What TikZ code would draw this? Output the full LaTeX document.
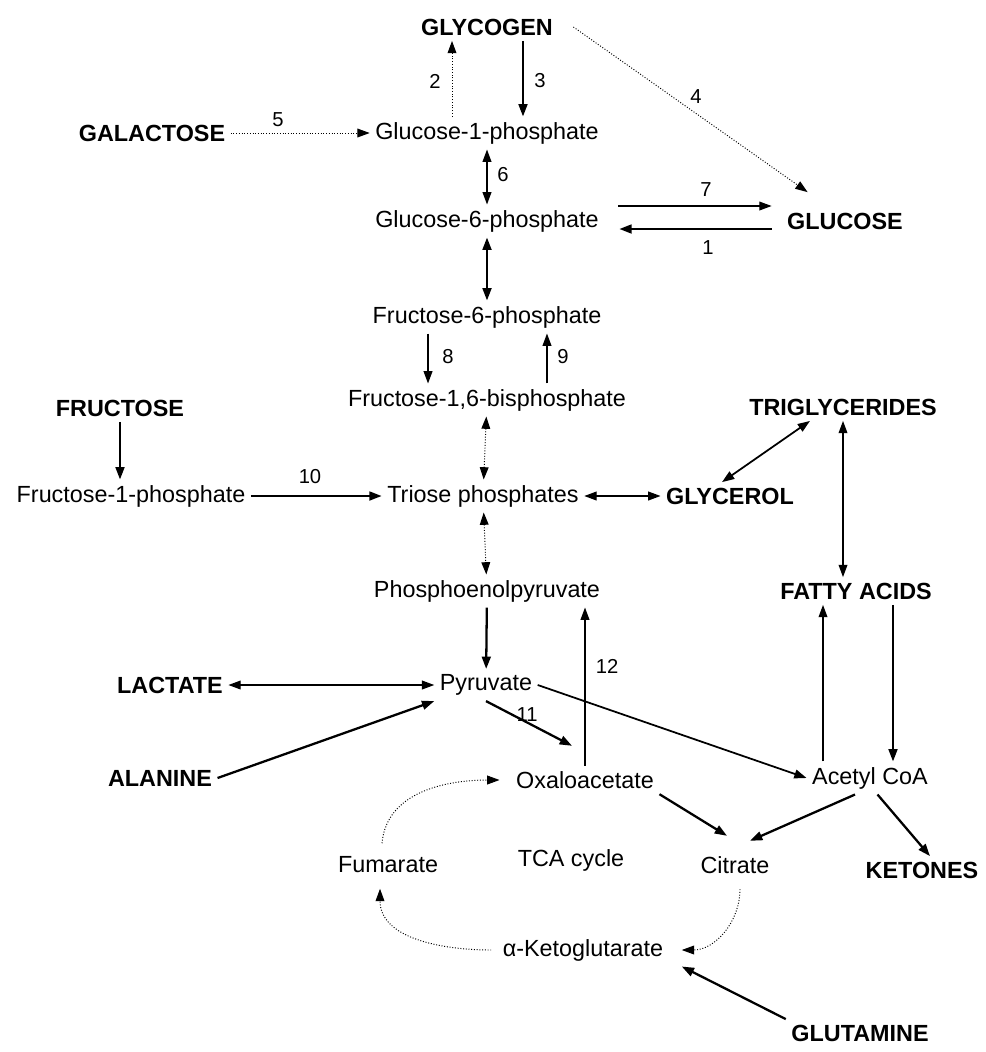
\documentclass[tikz,border=0pt]{standalone}
\usepackage{fontspec}
\setmainfont{Liberation Sans}
\usetikzlibrary{arrows.meta}

\tikzset{
  met/.style={font=\fontsize{13.3}{16}\selectfont, inner sep=3pt},
  fuel/.style={font=\fontsize{13.3}{16}\selectfont\bfseries, inner sep=3pt},
  num/.style={font=\fontsize{11.5}{14}\selectfont, inner sep=0pt},
  flux/.style={line width=0.7pt, -{Triangle[length=7pt,width=5pt]}},
  mainflux/.style={flux, line width=1.3pt},
  midflux/.style={flux, line width=1pt},
  slowflux/.style={flux, line width=0.55pt, densely dotted},
  twoway/.style={{Triangle[length=7pt,width=5pt]}-{Triangle[length=7pt,width=5pt]}}
}

\begin{document}
\begin{tikzpicture}[x=0.02cm, y=-0.02cm]
  \useasboundingbox (0,0) rectangle (985,1052);
  % intermediates
  \foreach \pos/\name/\txt in {{(487,133)/gone/Glucose-1-phosphate}, {(487,221)/gsix/Glucose-6-phosphate},
                               {(487,317)/fsix/Fructose-6-phosphate}, {(487,400)/fbis/{Fructose-1,6-bisphosphate}},
                               {(131,496)/fone/Fructose-1-phosphate}, {(483,496)/triose/Triose phosphates},
                               {(487,591)/pep/Phosphoenolpyruvate}, {(486,685)/pyr/Pyruvate},
                               {(870,778)/acoa/Acetyl CoA}, {(585,780)/oaa/Oxaloacetate},
                               {(388,865)/fum/Fumarate}, {(571,860)/tca/TCA cycle},
                               {(735,865)/cit/Citrate}, {(583,950)/akg/α-Ketoglutarate}}
    \node[met] (\name) at \pos {\txt};
  % fuels and stores
  \foreach \pos/\name/\txt in {{(487,27)/glycogen/GLYCOGEN}, {(152,133)/galactose/GALACTOSE},
                               {(845,221)/glucose/GLUCOSE}, {(120,408)/fructose/FRUCTOSE},
                               {(843,407)/trig/TRIGLYCERIDES}, {(730,496)/glycerol/GLYCEROL},
                               {(856,591)/fatty/FATTY ACIDS}, {(170,685)/lactate/LACTATE},
                               {(160,778)/alanine/ALANINE}, {(922,870)/ketones/KETONES},
                               {(860,1033)/glutamine/GLUTAMINE}}
    \node[fuel] (\name) at \pos {\txt};
  % enzyme numbers
  \foreach \pos/\n in {{(435,81)/2}, {(540,81)/3}, {(696,97)/4}, {(278,120)/5}, {(503,175)/6},
                       {(706,190)/7}, {(708,248)/1}, {(448,357)/8}, {(563,357)/9},
                       {(310,477)/10}, {(527,715)/11}, {(607,666)/12}}
    \node[num] (n\n) at \pos {\n};

  % glycogen and glucose
  \draw[slowflux] ([xshift=-0.7cm]gone.north) -- ([xshift=-0.7cm]glycogen.south);
  \draw[mainflux] ([xshift=0.72cm]glycogen.south) -- ([xshift=0.72cm]gone.north);
  \draw[slowflux] ([xshift=0.3cm]glycogen.east) -- ([xshift=0.52cm,yshift=0.3cm]glucose.north west);
  \draw[slowflux] (galactose) -- (gone);
  \draw[flux,twoway] (gone) -- (gsix);
  \draw[flux] ([xshift=0.28cm,yshift=0.3cm]gsix.east) -- ([xshift=-0.2cm,yshift=0.3cm]glucose.west);
  \draw[mainflux] ([xshift=-0.2cm,yshift=-0.16cm]glucose.west) -- ([xshift=0.3cm,yshift=-0.16cm]gsix.east);
  \draw[mainflux,twoway] (gsix) -- (fsix);
  \draw[flux] ([xshift=-1.18cm]fsix.south) -- ([xshift=-1.18cm]fbis.north);
  \draw[flux] ([xshift=1.2cm]fbis.north) -- ([xshift=1.2cm]fsix.south);
  % triose level
  \draw[slowflux,twoway] (fbis) -- (triose);
  \draw[mainflux] (fructose.south) -- (fructose.south |- fone.north);
  \draw[mainflux] (fone) -- (triose);
  \draw[flux,twoway] (triose) -- (glycerol);
  \draw[midflux,twoway] ([xshift=-0.66cm]trig.south) -- ([xshift=-0.16cm]glycerol.north);
  \draw[flux,twoway] (trig.south) -- (trig.south |- fatty.north);
  \draw[slowflux,twoway] (triose) -- (pep);
  % pyruvate and acetyl CoA
  \draw[mainflux] (pep) -- (pyr);
  \draw[flux] (oaa) -- (oaa |- pep.south);
  \draw[flux,twoway] (lactate) -- (pyr);
  \draw[mainflux] (alanine.east) -- (pyr.south west);
  \draw[mainflux] (pyr.south) -- ([xshift=-0.26cm,yshift=0.4cm]oaa.north);
  \draw[midflux] (pyr.east) -- (acoa.west);
  \draw[flux] ([xshift=-0.94cm]acoa.north) -- ([xshift=-0.94cm]acoa.north |- fatty.south);
  \draw[mainflux] ([xshift=0.74cm]fatty.south) -- ([xshift=0.74cm]fatty.south |- acoa.north);
  \draw[mainflux] ([xshift=-0.3cm]acoa.south) -- ([xshift=-0.5cm,yshift=0.2cm]cit.north east);
  \draw[mainflux] ([xshift=0.15cm]acoa.south) -- ([xshift=0.16cm]ketones.north);
  % TCA cycle
  \draw[mainflux] (oaa.south east) -- ([xshift=-0.16cm,yshift=0.3cm]cit.north);
  \draw[slowflux] ([xshift=0.1cm,yshift=-0.2cm]cit.south) to[out=-90,in=0] ([xshift=0.26cm]akg.east);
  \draw[slowflux] ([xshift=-0.12cm]akg.west) to[out=180,in=-90] ([xshift=-0.16cm,yshift=-0.2cm]fum.south);
  \draw[slowflux] ([xshift=-0.12cm,yshift=0.16cm]fum.north) to[out=85,in=180] ([xshift=-0.22cm]oaa.west);
  \draw[mainflux] (glutamine.north west) -- ([xshift=0.26cm]akg.south east);
\end{tikzpicture}
\end{document}
